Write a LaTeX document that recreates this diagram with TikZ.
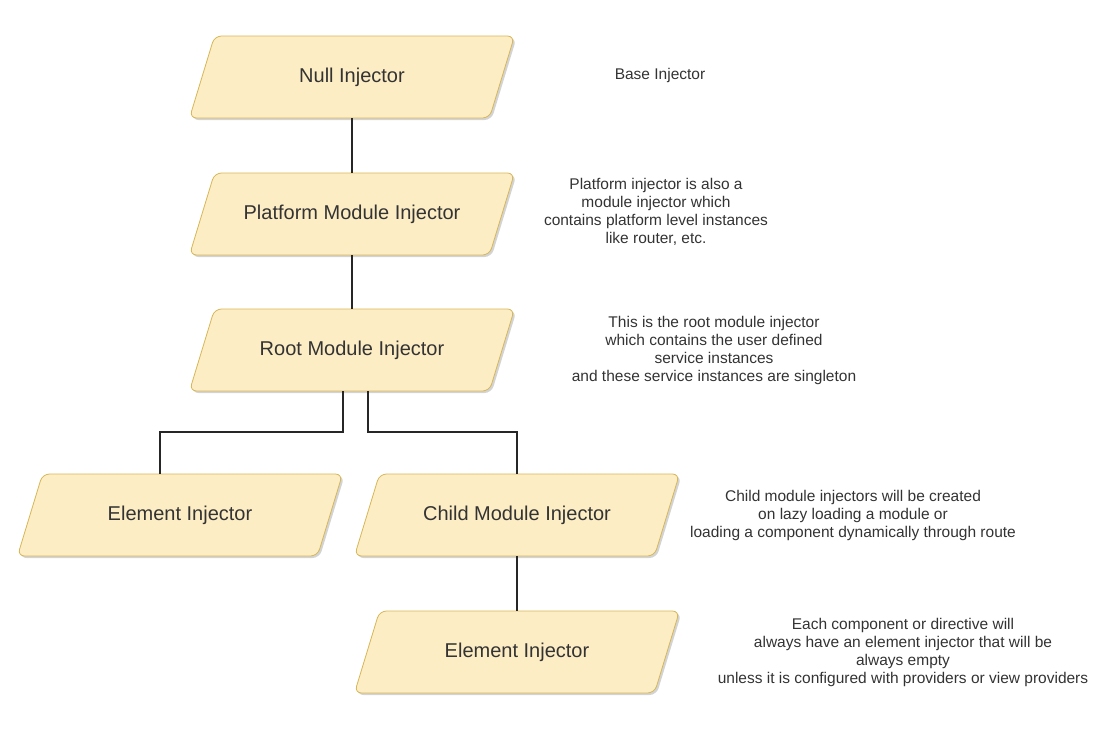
\documentclass[tikz,border=0pt]{standalone}
\usepackage{fontspec}
\setmainfont{Liberation Sans}
\usetikzlibrary{shadows}
\definecolor{boxfill}{HTML}{FDEDC4}
\definecolor{boxline}{HTML}{D6B656}
\definecolor{txt}{HTML}{333333}
\tikzset{
  boxshape/.style={fill=boxfill,draw=boxline,line width=0.8pt,rounded corners=7pt,
    drop shadow={shadow xshift=2pt,shadow yshift=-2pt,opacity=0.35}},
  boxlabel/.style={inner sep=0pt,minimum width=300pt,minimum height=82pt,text=txt,font=\fontsize{20}{22}\selectfont},
  note/.style={align=center,text=txt,font=\fontsize{15.5}{18}\selectfont},
  conn/.style={line width=1.8pt,draw=black!85}
}
\newcommand{\pbox}[4]{%
  \path[boxshape] (#2-162.5+25,#3-41) -- (#2+162.5,#3-41) -- (#2+162.5-25,#3+41) -- (#2-162.5,#3+41) -- cycle;
  \node[boxlabel] (#1) at (#2,#3) {#4};}
\begin{document}
\begin{tikzpicture}[x=1pt,y=-1pt]
\useasboundingbox (0,0) rectangle (1095,744);
\pbox{null}{352}{77}{Null Injector}
\pbox{plat}{352}{214}{Platform Module Injector}
\pbox{root}{352}{350}{Root Module Injector}
\pbox{elA}{180}{515}{Element Injector}
\pbox{child}{517}{515}{Child Module Injector}
\pbox{elB}{517}{652}{Element Injector}
\coordinate (j1) at (343,432);
\coordinate (j2) at (368,432);
\draw[conn] (null.south) -- (plat.north);
\draw[conn] (plat.south) -- (root.north);
\draw[conn] (root.south -| j1) -- (j1) -| (elA.north -| 160,0);
\draw[conn] (root.south -| j2) -- (j2) -| (child.north);
\draw[conn] (child.south) -- (elB.north);
\node[note] (n1) at (660,75) {Base Injector};
\node[note] (n2) at (656,212) {Platform injector is also a\\module injector which\\contains platform level instances\\like router, etc.};
\node[note] (n3) at (714,350) {This is the root module injector\\which contains the user defined\\service instances\\and these service instances are singleton};
\node[note] (n4) at (853,515) {Child module injectors will be created\\on lazy loading a module or\\loading a component dynamically through route};
\node[note] (n5) at (903,652) {Each component or directive will\\always have an element injector that will be\\always empty\\unless it is configured with providers or view providers};
\end{tikzpicture}
\end{document}
